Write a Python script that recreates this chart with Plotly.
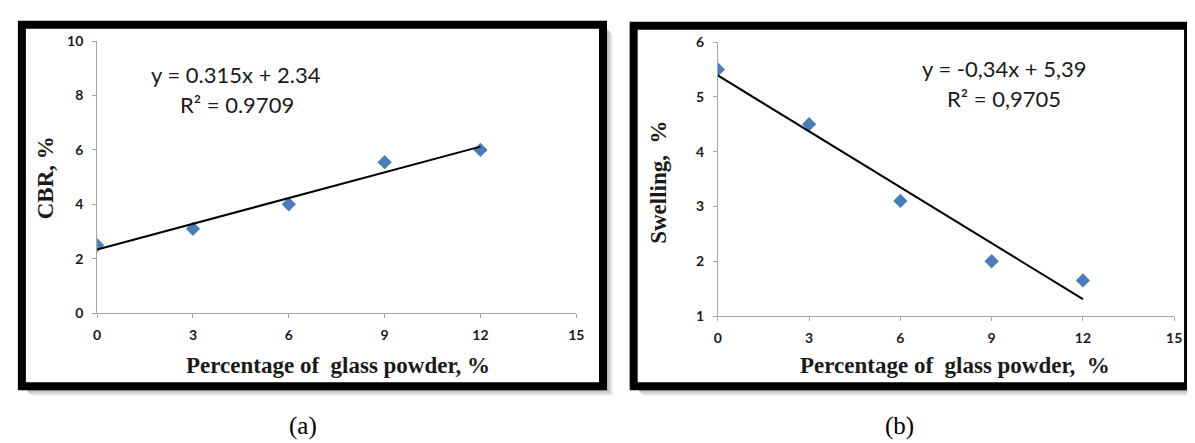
import plotly.graph_objects as go

# ---------------- data ----------------
glass_pct = [0, 3, 6, 9, 12]
cbr_values = [2.5, 3.1, 4.0, 5.55, 6.0]
swelling_values = [5.5, 4.5, 3.1, 2.0, 1.65]

cbr_fit = {"slope": 0.315, "intercept": 2.34}
swell_fit = {"slope": -0.34, "intercept": 5.39}
fit_x = [0, 12]

x_ticks = [0, 3, 6, 9, 12, 15]
cbr_ticks = [0, 2, 4, 6, 8, 10]
swell_ticks = [1, 2, 3, 4, 5, 6]

cbr_eq = "y = 0.315x + 2.34"
cbr_r2 = "R² = 0.9709"
swell_eq = "y = -0,34x + 5,39"
swell_r2 = "R² = 0,9705"

W, H = 1195, 443


def px(x):
    return x / W


def py(y):
    return 1 - y / H


MARKER_COLOR = "#4a7ebb"
AXIS_COLOR = "#a6a6a6"
TICK_FONT = dict(family="Lato", size=14, color="#1a1a1a", weight="bold")

fig = go.Figure()

# panel (a)
fig.add_trace(go.Scatter(
    x=glass_pct, y=cbr_values, mode="markers",
    marker=dict(symbol="diamond", size=11, color=MARKER_COLOR),
    xaxis="x", yaxis="y", showlegend=False))
fig.add_trace(go.Scatter(
    x=fit_x, y=[cbr_fit["slope"] * v + cbr_fit["intercept"] for v in fit_x],
    mode="lines", line=dict(color="black", width=2),
    xaxis="x", yaxis="y", showlegend=False))

# panel (b)
fig.add_trace(go.Scatter(
    x=glass_pct, y=swelling_values, mode="markers",
    marker=dict(symbol="diamond", size=11, color=MARKER_COLOR),
    xaxis="x2", yaxis="y2", showlegend=False))
fig.add_trace(go.Scatter(
    x=fit_x, y=[swell_fit["slope"] * v + swell_fit["intercept"] for v in fit_x],
    mode="lines", line=dict(color="black", width=2),
    xaxis="x2", yaxis="y2", showlegend=False))

axis_common = dict(
    showline=True, linecolor=AXIS_COLOR, linewidth=1,
    showgrid=False, zeroline=False,
    ticks="outside", ticklen=4, tickcolor=AXIS_COLOR, tickwidth=1,
    tickfont=TICK_FONT, fixedrange=True,
)

fig.update_layout(
    width=W, height=H,
    margin=dict(l=0, r=0, t=0, b=0),
    paper_bgcolor="white", plot_bgcolor="rgba(0,0,0,0)",
    xaxis=dict(domain=[px(86), px(570)], range=[0, 15], tickvals=x_ticks,
               anchor="y", ticklabelstandoff=5, **axis_common),
    yaxis=dict(domain=[py(308), py(25)], range=[0, 10], tickvals=cbr_ticks,
               anchor="x", ticklabelstandoff=6, **axis_common),
    xaxis2=dict(domain=[px(713), px(1174)], range=[0, 15], tickvals=x_ticks,
                anchor="y2", ticklabelstandoff=5, **axis_common),
    yaxis2=dict(domain=[py(311), py(26)], range=[1, 6], tickvals=swell_ticks,
                anchor="x2", ticklabelstandoff=6, **axis_common),
)

# frames with soft shadow
shapes = []
frames = [(10, 8, 597, 384), (628, 9, 1188, 384)]
for (x0, y0, x1, y1) in frames:
    for k in range(10, 0, -1):
        g = int(255 - (11 - k) * 12)
        shapes.append(dict(type="rect", xref="paper", yref="paper",
                           x0=px(x0 + k), x1=px(x1 + k), y0=py(y1 + k), y1=py(y0 + k),
                           line=dict(width=0), fillcolor=f"rgb({g},{g},{g})", layer="below"))
    shapes.append(dict(type="rect", xref="paper", yref="paper",
                       x0=px(x0), x1=px(x1), y0=py(y1), y1=py(y0),
                       line=dict(color="black", width=8), fillcolor="white", layer="below"))
fig.update_layout(shapes=shapes)

TITLE_FONT = dict(family="Liberation Serif", size=23, color="#1a1a1a", weight="bold")
EQ_FONT = dict(family="Lato", size=22, color="#1a1a1a")

ann = []


def add_text(text, x, y, font, angle=0):
    ann.append(dict(text=text, xref="paper", yref="paper", x=px(x), y=py(y),
                    xanchor="center", yanchor="middle", showarrow=False,
                    font=font, textangle=angle))


add_text("Percentage of  glass powder, %", 329, 362, TITLE_FONT)
add_text("CBR, %", 34, 167, TITLE_FONT, -90)
add_text(cbr_eq, 226, 60, EQ_FONT)
add_text(cbr_r2, 227, 91, EQ_FONT)
add_text("(a)", 294, 425, dict(family="Liberation Serif", size=25, color="black"))

add_text("Percentage of  glass powder,  %", 953, 362, TITLE_FONT)
add_text("Swelling,  %", 653, 172, TITLE_FONT, -90)
add_text(swell_eq, 1003, 54, EQ_FONT)
add_text(swell_r2, 1002, 85, EQ_FONT)
add_text("(b)", 896, 425, dict(family="Liberation Serif", size=25, color="black"))

fig.update_layout(annotations=ann)

fig.write_html("out.html")
